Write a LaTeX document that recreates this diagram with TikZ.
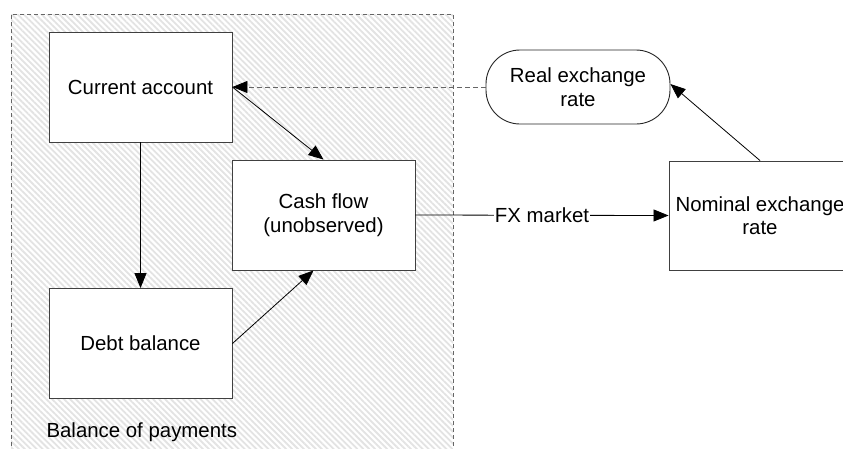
\documentclass[tikz,border=0pt]{standalone}
\usepackage{fontspec}
\setmainfont{Liberation Sans}
\usetikzlibrary{arrows.meta,patterns.meta}
\tikzset{
  box/.style={draw=black!75, line width=0.9pt, fill=white, minimum width=183pt, minimum height=110pt, align=center, inner sep=0pt},
  pill/.style={draw=black!85, line width=0.9pt, fill=white, minimum width=184pt, minimum height=74pt, rounded corners=34pt, align=center, inner sep=0pt},
  tip/.style={-{Triangle[length=15pt,width=12pt,color=black,fill=black]}},
  link/.style={draw=black, line width=0.8pt, tip},
  dlink/.style={draw=black!60, line width=0.8pt, dash pattern=on 5pt off 3pt, tip},
  groupframe/.style={draw=black!60, line width=0.8pt, dash pattern=on 4pt off 3pt},
  lbl/.style={fill=white, inner sep=1pt}
}
\begin{document}
\begin{tikzpicture}[x=1pt,y=-1pt,font=\fontsize{20.4}{23.5}\selectfont]
\clip (0,0) rectangle (843,448);
\fill[white] (0,0) rectangle (843,448);
% group area
\path[pattern={Lines[angle=-45,distance=4.2pt,line width=1.8pt]}, pattern color=black!11] (11,14) rectangle (453,460);
\draw[groupframe] (11,460) -- (11,14) -- (453,14) -- (453,460);
\node[anchor=west] (bop) at (43,432) {Balance of payments};
% nodes
\node[box] (ca) at (140.5,87) {Current account};
\node[box] (cf) at (323.5,215) {Cash flow\\(unobserved)};
\node[box] (db) at (140.5,343.5) {Debt balance};
\node[pill] (rer) at (578,87) {Real exchange\\rate};
\node[box, minimum width=182pt, minimum height=109pt] (ner) at (760,215.5) {Nominal exchange\\rate};
% connectors
\draw[link] (ca.east) -- (cf.north);
\draw[link] (ca.south) -- (db.north);
\draw[link] (db.east) -- ([xshift=-10pt]cf.south);
\draw[dlink] (rer.west) -- (ca.east);
\draw[link] (ner.north) -- ([yshift=3pt]rer.east);
\draw[link] (cf.east) -- node[lbl] {FX market} (ner.west);
\end{tikzpicture}
\end{document}
